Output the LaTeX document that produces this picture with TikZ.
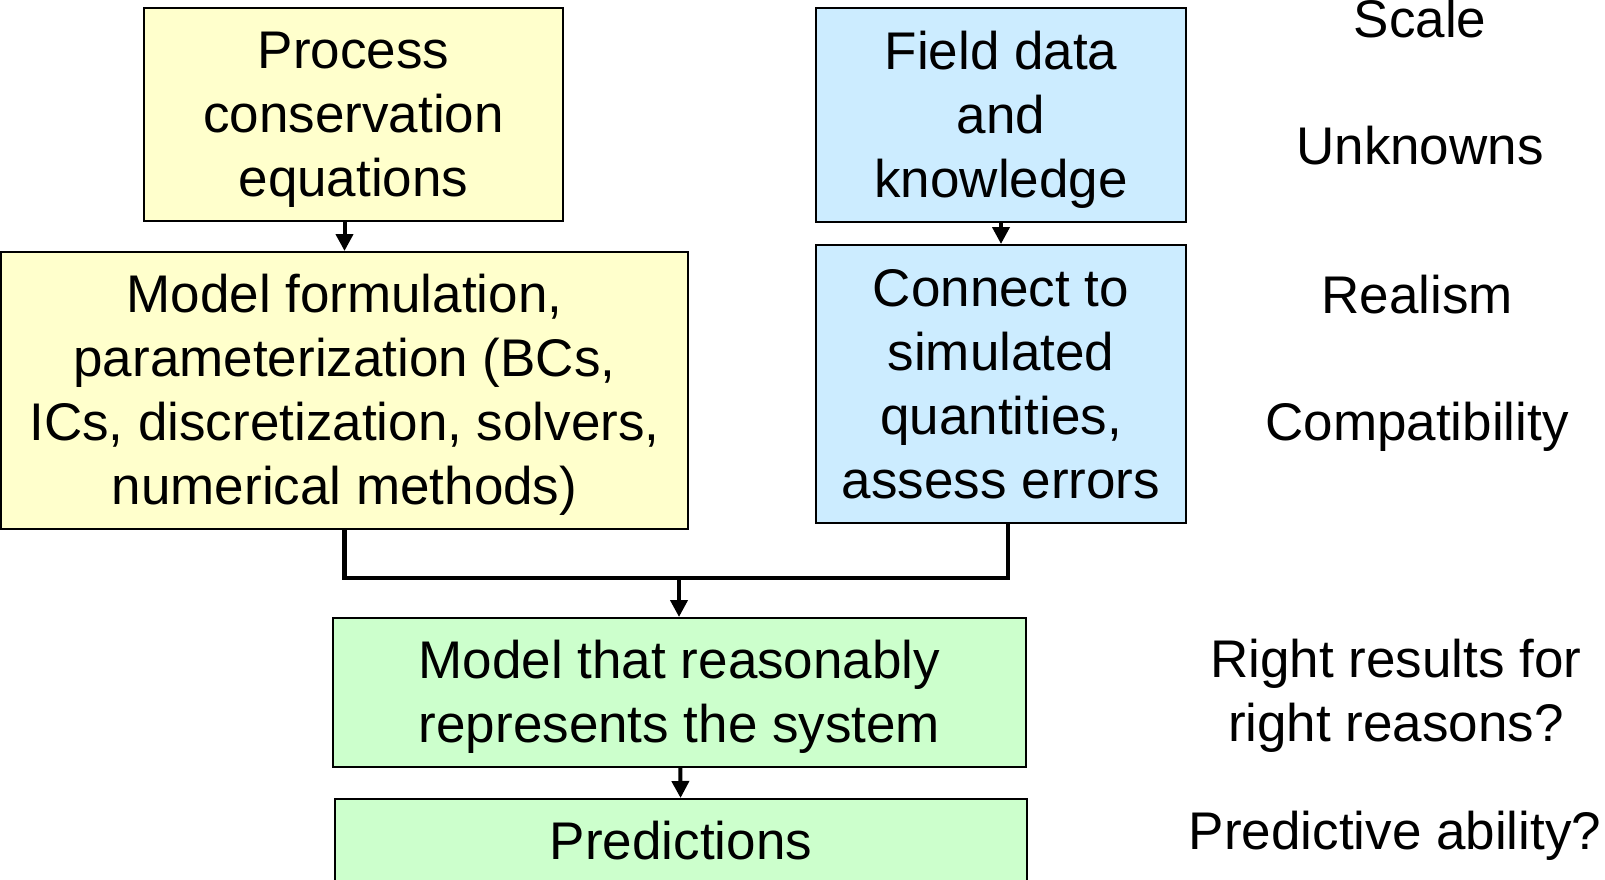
\documentclass[tikz,border=0pt]{standalone}
\usepackage{fontspec}
\setmainfont{Liberation Sans}
\usetikzlibrary{arrows.meta}

\definecolor{procyellow}{HTML}{FFFFCC}
\definecolor{datablue}{HTML}{CCECFF}
\definecolor{modelgreen}{HTML}{CCFFCC}

\newcommand{\bigtext}{\fontsize{26.5}{32}\selectfont}
% full ascent for the first line of a box
\newcommand{\topstrut}{\rule{0pt}{24pt}}

\tikzset{
  box/.style={draw=black, line width=1pt, align=center, inner sep=0pt, font=\bigtext,
    execute at end node={\rule[-5.6pt]{0pt}{5.6pt}}},
  issue/.style={align=center, inner sep=0pt, font=\bigtext, anchor=base},
  arr/.style={line width=2pt, -{Triangle[length=8.5pt,width=8.5pt]}},
  bus/.style={line width=2.2pt}
}

\begin{document}
\begin{tikzpicture}[x=0.5pt,y=-0.5pt]
\useasboundingbox (0,0) rectangle (1605,879);

% boxes
\node[box, fill=procyellow, minimum width=209.5pt, minimum height=106.5pt] (proc) at (353.5,114.5)
  {\topstrut Process\\conservation\\equations};
\node[box, fill=datablue, minimum width=185pt, minimum height=107pt] (field) at (1001,115)
  {\topstrut Field data\\and\\knowledge};
\node[box, fill=procyellow, minimum width=343.5pt, minimum height=138.5pt] (form) at (344.5,390.5)
  {\topstrut Model formulation,\\parameterization (BCs,\\ICs, discretization, solvers,\\numerical methods)};
\node[box, fill=datablue, minimum width=185pt, minimum height=139pt] (conn) at (1001,384)
  {\topstrut Connect to\\simulated\\quantities,\\assess errors};
\node[box, fill=modelgreen, minimum width=346.5pt, minimum height=74.5pt] (model) at (679.5,692.5)
  {\topstrut Model that reasonably\\represents the system};
\node[box, fill=modelgreen, minimum width=346pt, minimum height=42pt] (pred) at (681,841)
  {\topstrut Predictions};

% issues at each stage
\node[issue] (scale) at (1420,37) {Scale};
\node[issue] (unknowns) at (1420,164) {Unknowns};
\node[issue] (realism) at (1417,313) {Realism};
\node[issue] (compat) at (1417,440) {Compatibility};
\node[issue] (right) at (1396,741) {Right results for\\right reasons?};
\node[issue] (predab) at (1395,849) {Predictive ability?};

% connectors
\draw[arr] (proc.south -| form.north) -- (form.north);
\draw[arr] (field) -- (conn);
\coordinate (join) at (679,578);
\draw[bus] (form.south) |- (join) -| ([xshift=3.5pt]conn.south);
\draw[arr] (join) -- (join |- model.north);
\draw[arr] (model) -- (pred);
\end{tikzpicture}
\end{document}
